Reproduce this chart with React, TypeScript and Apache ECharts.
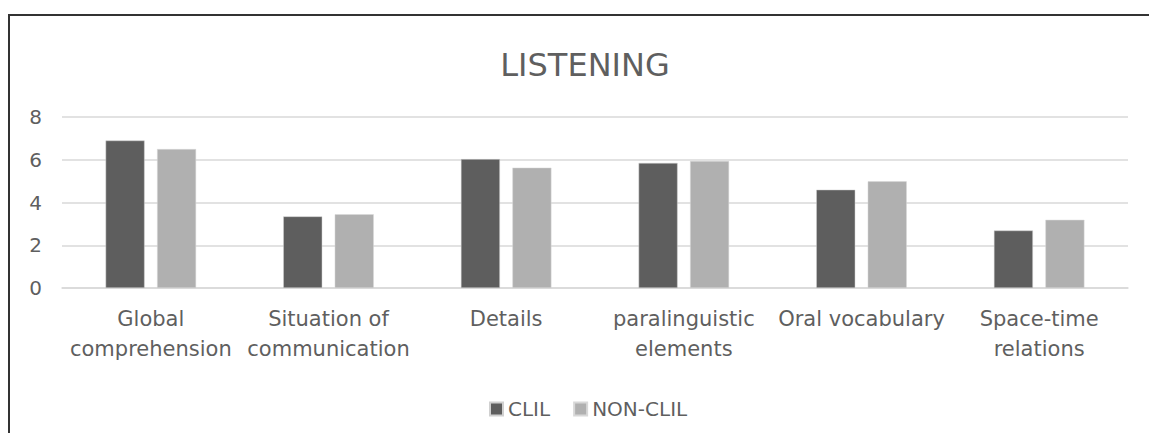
import React, { useEffect, useRef } from "react";
import * as echarts from "echarts";

const categories = [
  "Global\ncomprehension",
  "Situation of\ncommunication",
  "Details",
  "paralinguistic\nelements",
  "Oral vocabulary",
  "Space-time\nrelations",
];
const clil = [6.9, 3.35, 6.03, 5.85, 4.6, 2.69];
const nonClil = [6.5, 3.45, 5.63, 5.94, 4.99, 3.19];
const seriesNames = ["CLIL", "NON-CLIL"];
const titleText = "LISTENING";

const FONT = "DejaVu Sans";
const TEXT = "#5f5f5f";

export default function App() {
  const ref = useRef<HTMLDivElement>(null);
  useEffect(() => {
    if (!ref.current) return;
    const chart = echarts.init(ref.current, null, { renderer: "svg" });
    chart.setOption({
      animation: false,
      backgroundColor: "#ffffff",
      title: {
        text: titleText,
        left: 580,
        top: 44,
        textAlign: "center",
        textStyle: { fontFamily: FONT, fontSize: 32, fontWeight: "normal", color: TEXT },
      },
      legend: {
        data: seriesNames,
        left: 484,
        top: 394,
        itemWidth: 13,
        itemHeight: 13,
        itemGap: 23,
        icon: "rect",
        textStyle: { fontFamily: FONT, fontSize: 20, color: TEXT },
      },
      grid: { left: 62, right: 21, top: 117, bottom: 145 },
      xAxis: {
        type: "category",
        data: categories,
        axisLine: { lineStyle: { color: "#d9d9d9", width: 1.5 } },
        axisTick: { show: false },
        axisLabel: {
          interval: 0,
          margin: 16,
          fontFamily: FONT,
          fontSize: 21,
          lineHeight: 30,
          color: TEXT,
        },
      },
      yAxis: {
        type: "value",
        min: 0,
        max: 8,
        interval: 2,
        axisLine: { show: false },
        axisTick: { show: false },
        axisLabel: { margin: 20, fontFamily: FONT, fontSize: 20, color: TEXT },
        splitLine: { lineStyle: { color: "#d9d9d9", width: 1.5 } },
      },
      series: [
        {
          name: seriesNames[0],
          type: "bar",
          data: clil,
          barWidth: 39,
          barGap: "32%",
          itemStyle: { color: "#5e5e5e", borderColor: "#d0d0d0", borderWidth: 0.5 },
        },
        {
          name: seriesNames[1],
          type: "bar",
          data: nonClil,
          barWidth: 39,
          barGap: "32%",
          itemStyle: { color: "#b0b0b0", borderColor: "#d8d8d8", borderWidth: 0.5 },
        },
      ],
      graphic: [
        {
          type: "line",
          shape: { x1: 8, y1: 15, x2: 1149, y2: 15 },
          style: { stroke: "#333333", lineWidth: 2 },
        },
        {
          type: "line",
          shape: { x1: 9, y1: 14, x2: 9, y2: 433 },
          style: { stroke: "#333333", lineWidth: 2 },
        },
      ],
    });
    return () => chart.dispose();
  }, []);
  return (
    <div
      ref={ref}
      style={{ position: "absolute", left: 0, top: 0, width: 1149, height: 433, background: "#fff" }}
    />
  );
}
